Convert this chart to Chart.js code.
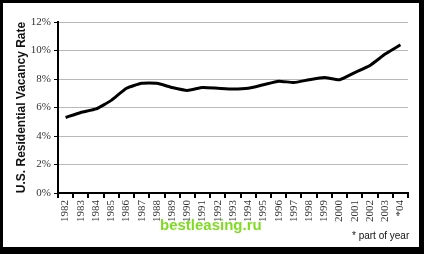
<!DOCTYPE html>
<html>
<head>
<meta charset="utf-8">
<script src="https://cdn.jsdelivr.net/npm/chart.js@4/dist/chart.umd.min.js"></script>
<style>
    html, body { margin: 0; padding: 0; background: #000; }
    #frame {
        position: relative;
        width: 424px; height: 254px;
        box-sizing: border-box;
        border-style: solid; border-color: #000;
        border-width: 3px 5px 7px 3px;
        background: #fff;
    }
    #vacancy { display: block; }
    .mark {
        position: absolute; white-space: nowrap;
        font-family: "Liberation Sans", Arial, sans-serif;
    }
    #watermark { left: 157px; top: 213px; font-size: 15px; font-weight: bold; color: #7fdc22; }
    #footnote { left: 349px; top: 227px; font-size: 10px; color: #111; }
</style>
</head>
<body>
<div id="frame">
    <canvas id="vacancy" width="416" height="244"></canvas>
    <div class="mark" id="watermark">bestleasing.ru</div>
    <div class="mark" id="footnote">* part of year</div>
</div>
<script>
const years = ["1982", "1983", "1984", "1985", "1986", "1987", "1988", "1989", "1990",
    "1991", "1992", "1993", "1994", "1995", "1996", "1997", "1998", "1999", "2000",
    "2001", "2002", "2003", "*04"];
const vacancyRate = [5.3, 5.65, 5.9, 6.5, 7.35, 7.7, 7.7, 7.4, 7.2,
    7.4, 7.35, 7.3, 7.35, 7.6, 7.85, 7.75, 7.95, 8.1, 7.95,
    8.45, 8.95, 9.75, 10.4];
const yTicks = [0, 2, 4, 6, 8, 10, 12];

document.addEventListener("DOMContentLoaded", () => {
    const serif = "'Liberation Serif', 'Times New Roman', serif";

    new Chart(document.getElementById("vacancy"), {
        type: "line",
        data: {
            labels: years,
            datasets: [
                {
                    data: vacancyRate,
                    borderColor: "#000",
                    borderWidth: 3,
                    pointRadius: 0,
                    tension: 0.15,
                    fill: false,
                },
            ],
        },
        options: {
            responsive: false,
            animation: false,
            layout: { padding: { left: 0, right: 11, top: 19, bottom: 0 } },
            plugins: { legend: { display: false }, tooltip: { enabled: false } },
            scales: {
                x: {
                    offset: true,
                    afterFit: (s) => { s.height = 54; },
                    grid: {
                        offset: true,
                        drawOnChartArea: false,
                        tickLength: 5,
                        tickColor: "#000",
                        lineWidth: 2,
                    },
                    border: { color: "#000", width: 2 },
                    ticks: {
                        minRotation: 90,
                        maxRotation: 90,
                        autoSkip: false,
                        padding: 2,
                        color: "#333",
                        font: { family: serif, size: 11 },
                    },
                },
                y: {
                    min: 0,
                    max: 12,
                    afterFit: (s) => { s.width = 55; },
                    afterBuildTicks: (s) => { s.ticks = yTicks.map((v) => ({ value: v })); },
                    grid: {
                        color: "#b8b8b8",
                        lineWidth: 1,
                        tickLength: 4,
                        tickColor: "#000",
                    },
                    border: { color: "#000", width: 2 },
                    title: {
                        display: true,
                        text: "U.S. Residential Vacancy Rate",
                        color: "#111",
                        padding: { top: 11, bottom: 0 },
                        font: { family: "'Liberation Sans', Arial, sans-serif", size: 12, weight: "bold" },
                    },
                    ticks: {
                        padding: 3,
                        color: "#333",
                        font: { family: serif, size: 11 },
                        callback: (v) => v + "%",
                    },
                },
            },
        },
    });
});
</script>
</body>
</html>
